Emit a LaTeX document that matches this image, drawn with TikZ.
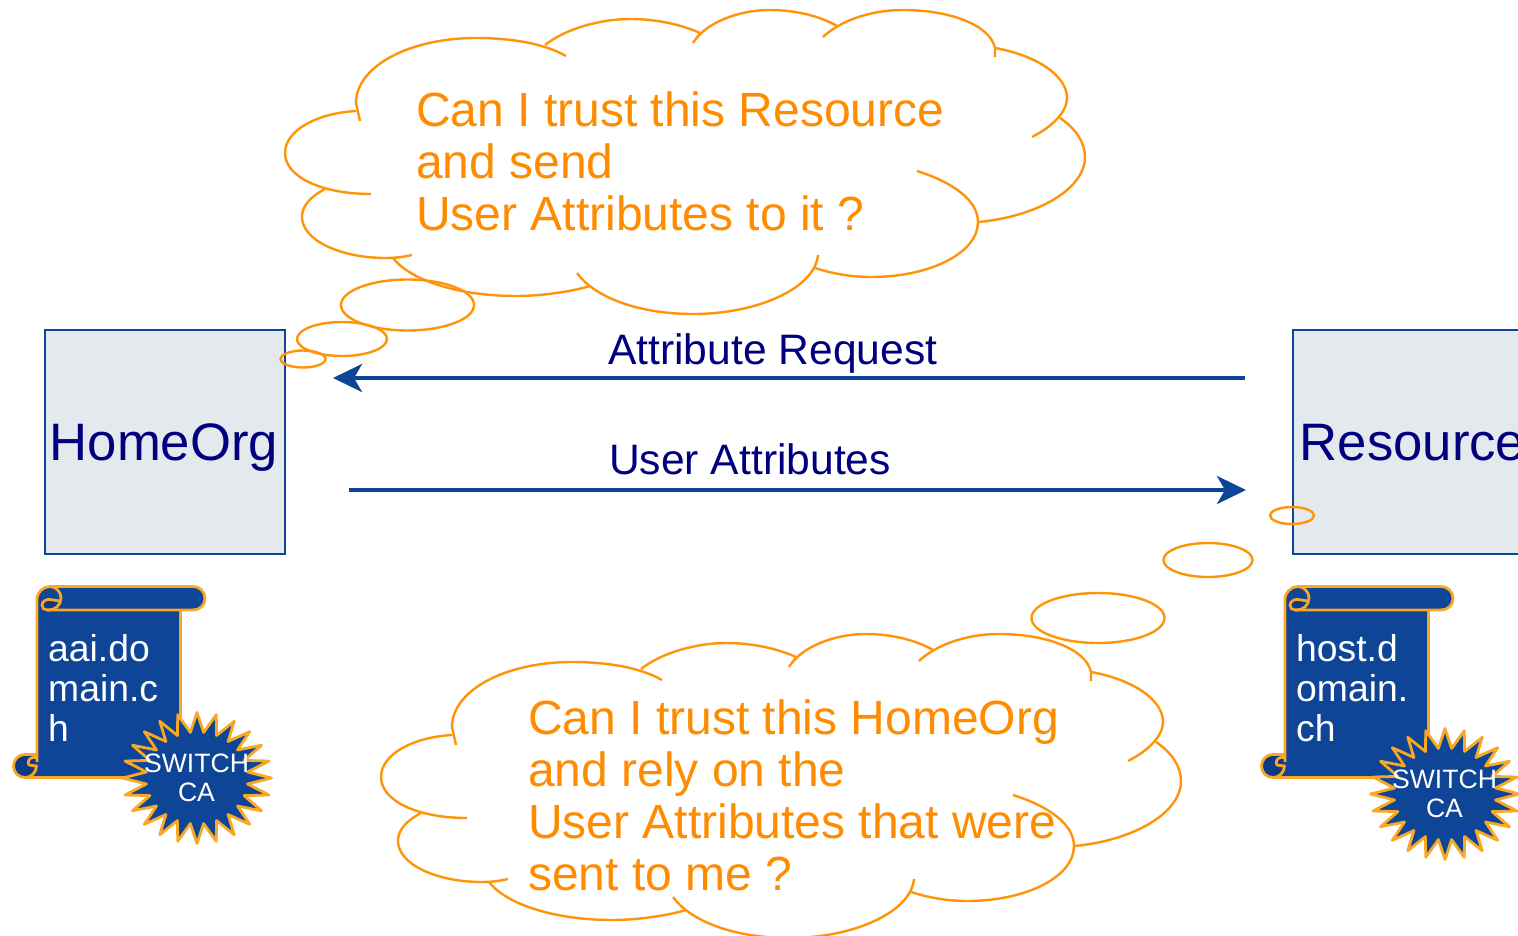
\documentclass[tikz,border=0pt]{standalone}
\usepackage{fontspec}
\setmainfont{Liberation Sans}
\usetikzlibrary{arrows.meta}
\definecolor{cloudor}{HTML}{FF9408}
\definecolor{textor}{HTML}{FF8C00}
\definecolor{navytext}{HTML}{00007F}
\definecolor{flowblue}{HTML}{0F4596}
\definecolor{darkblue}{HTML}{0C3A85}
\definecolor{boxfill}{HTML}{E3E9EC}
\definecolor{scrollor}{HTML}{F9A825}
\tikzset{
  cloudline/.style={draw=cloudor,line width=2.4pt},
  orgbox/.style={draw=flowblue,fill=boxfill,line width=2.4pt,minimum width=240pt,minimum height=224pt,inner sep=0pt},
  orgtext/.style={text=navytext,font=\fontsize{52.7}{56}\selectfont,anchor=base west,inner sep=0pt},
  flow/.style={draw=flowblue,line width=4.4pt,-{Stealth[length=29pt,width=28pt,inset=8pt]}},
  flowtext/.style={text=navytext,font=\fontsize{42.6}{46}\selectfont,anchor=base west,inner sep=0pt},
  thought/.style={text=textor,font=\fontsize{48}{52}\selectfont,align=left,anchor=base west,inner sep=0pt},
  scrolltext/.style={text=white,font=\fontsize{37.3}{40}\selectfont,align=left,anchor=base west,inner sep=0pt},
  seal/.style={text=white,font=\fontsize{26.6}{29}\selectfont,align=center,inner sep=0pt},
  scrollline/.style={draw=scrollor,line width=2.8pt,line join=round},
}
\newcommand{\cloudshape}{%
  \draw[cloudline] (360,121) -- (356,103) .. controls (356,66) and (410,38) .. (476,38) .. controls (510,38) and (543,43) .. (566,56);
  \draw[cloudline] (545,45) .. controls (565,29) and (600,19) .. (630,19) .. controls (655,19) and (680,24) .. (700,33);
  \draw[cloudline] (693,43) .. controls (705,23) and (738,10) .. (770,10) .. controls (795,10) and (820,16) .. (837,26);
  \draw[cloudline] (823,37) .. controls (840,21) and (870,10) .. (903,10) .. controls (950,10) and (990,25) .. (995,48) -- (995,57);
  \draw[cloudline] (995,48) .. controls (1035,55) and (1067,75) .. (1067,98) .. controls (1067,112) and (1052,127) .. (1032,137);
  \draw[cloudline] (1060,118) .. controls (1075,128) and (1085,142) .. (1085,157) .. controls (1085,190) and (1035,217) .. (978,222);
  \draw[cloudline] (917,171) .. controls (952,182) and (978,200) .. (978,222) .. controls (978,253) and (930,277) .. (871,277) .. controls (850,277) and (830,273) .. (815,268);
  \draw[cloudline] (818,255) .. controls (815,288) and (758,314) .. (693,314) .. controls (640,314) and (595,298) .. (577,273);
  \draw[cloudline] (590,286) .. controls (570,292) and (540,296) .. (516,296) .. controls (458,296) and (410,280) .. (393,258);
  \draw[cloudline] (412,255) .. controls (403,257) and (395,258) .. (386,258) .. controls (340,258) and (302,240) .. (302,217) .. controls (302,206) and (310,197) .. (325,189);
  \draw[cloudline] (371,194) .. controls (322,194) and (285,177) .. (285,153) .. controls (285,130) and (318,113) .. (356,111);
}
\newcommand{\scrollshape}{%
  \fill[flowblue] (37,600) .. controls (37,592) and (43,586.5) .. (50,586.5) -- (193,586.5) .. controls (200,586.5) and (205,592) .. (205,598.25) .. controls (205,605) and (200,610) .. (193,610) -- (180.5,610) -- (180.5,777.5) -- (25,777.5) -- (25,755) -- (37,755) -- cycle;
  \fill[darkblue] (25,754.5) .. controls (18,754.5) and (13.5,760) .. (13.5,766) .. controls (13.5,772) and (18,777.5) .. (25,777.5) .. controls (31,777.5) and (36,773) .. (36.5,766) -- (36.5,754.5) -- cycle;
  \fill[darkblue] (42,605) .. controls (42,601) and (47,599) .. (50,599.5) -- (60,601) .. controls (59,607) and (54,610) .. (49,610) -- (47,610) .. controls (44,610) and (42,608) .. (42,605) -- cycle;
  \draw[scrollline] (37,762) -- (37,600) .. controls (37,592) and (43,586.5) .. (50,586.5) -- (193,586.5) .. controls (200,586.5) and (205,592) .. (205,598.25) .. controls (205,605) and (200,610) .. (193,610) -- (47,610);
  \draw[scrollline] (50,586.5) .. controls (56,586.5) and (61,592) .. (61,598) .. controls (61,605) and (55,610) .. (49,610) -- (47,610) .. controls (44,610) and (42,608) .. (42,605) .. controls (42,601) and (47,599) .. (50,599.5) -- (60,601);
  \draw[scrollline] (180.5,610) -- (180.5,777.5) -- (25,777.5) .. controls (18,777.5) and (13.5,772) .. (13.5,766) .. controls (13.5,760) and (18,754.5) .. (25,754.5) -- (37,754.5);
  \draw[scrollline] (25,777.5) .. controls (31,777.5) and (36,773) .. (36.5,766) -- (29,765) .. controls (27,762) and (29,758) .. (33,757.5) -- (36,757.5);
}
\newcommand{\sealshape}{%
  \draw[scrollline,fill=flowblue] plot[domain=0:47,samples=48] ({197+(mod(\x,2)==0?74.5:51)*cos(7.5*\x)},{778+(mod(\x,2)==0?65.5:46)*sin(7.5*\x)}) -- cycle;
}
\begin{document}
\begin{tikzpicture}[x=1pt,y=-1pt]
\useasboundingbox (0,0) rectangle (1518,935);
\clip (0,0) rectangle (1518,935);
% org boxes
\node[orgbox] (homebox) at (164.8,442) {};
\node[orgbox] (resbox) at (1413,442) {};
\node[orgtext] (hometext) at (49.5,460.5) {HomeOrg};
\node[orgtext] (restext) at (1299.5,460.5) {Resource};
% upper thought
\cloudshape
\node[thought] (q1) at (416,230.5) {Can I trust this Resource\\and send\\User Attributes to it ?};
\draw[cloudline] (407.5,305) ellipse[x radius=66.5,y radius=25.5];
\draw[cloudline] (342,339) ellipse[x radius=45,y radius=17];
\draw[cloudline] (303,359) ellipse[x radius=22.5,y radius=8.5];
% lower thought
\begin{scope}[shift={(96pt,-624pt)}]
\cloudshape
\end{scope}
\node[thought] (q2) at (528,890.5) {Can I trust this HomeOrg\\and rely on the\\User Attributes that were\\sent to me ?};
\draw[cloudline] (1098,618) ellipse[x radius=66.5,y radius=25];
\draw[cloudline] (1208,560) ellipse[x radius=44.5,y radius=17];
\draw[cloudline] (1292,515.5) ellipse[x radius=22,y radius=8.5];
% flows
\coordinate (reqfrom) at (1245,378);
\coordinate (reqto) at (333,378);
\coordinate (attfrom) at (349,490);
\coordinate (attto) at (1246,490);
\draw[flow] (reqfrom) -- (reqto);
\draw[flow] (attfrom) -- (attto);
\node[flowtext] (reqlabel) at (608,364) {Attribute Request};
\node[flowtext] (attlabel) at (609,474) {User Attributes};
% scroll left
\scrollshape
\node[scrolltext] (cert1) at (48,741) {aai.do\\main.c\\h};
\sealshape
\node[seal] (seal1) at (196.5,778) {SWITCH\\CA};
% scroll right
\begin{scope}[shift={(1248pt,0pt)}]
\scrollshape
\end{scope}
\node[scrolltext] (cert2) at (1296,741) {host.d\\omain.\\ch};
\begin{scope}[shift={(1248pt,-16pt)}]
\sealshape
\end{scope}
\node[seal] (seal2) at (1444.5,794) {SWITCH\\CA};
\end{tikzpicture}
\end{document}
